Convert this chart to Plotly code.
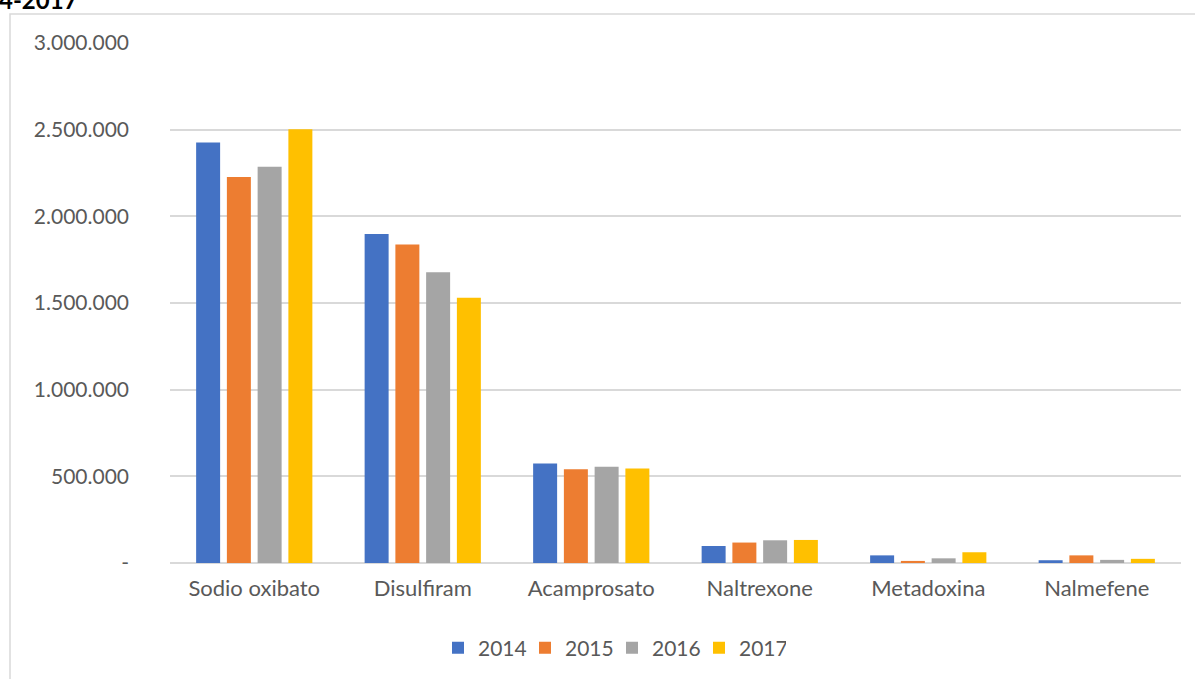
import plotly.graph_objects as go

categories = ["Sodio oxibato", "Disulfiram", "Acamprosato", "Naltrexone", "Metadoxina", "Nalmefene"]
years = ["2014", "2015", "2016", "2017"]
v2014 = [2426000, 1898000, 574000, 98000, 44000, 16000]
v2015 = [2227000, 1837000, 541000, 118000, 12000, 44000]
v2016 = [2286000, 1677000, 555000, 131000, 27000, 18000]
v2017 = [2503000, 1530000, 545000, 133000, 62000, 24000]
series = [v2014, v2015, v2016, v2017]
colors = ["#4472C4", "#ED7D31", "#A5A5A5", "#FFC000"]
tick_vals = [0, 500000, 1000000, 1500000, 2000000, 2500000, 3000000]
tick_text = ["-", "500.000", "1.000.000", "1.500.000", "2.000.000", "2.500.000", "3.000.000"]

FONT = "Lato, Open Sans, sans-serif"
fig = go.Figure()
for name, vals, col in zip(years, series, colors):
    fig.add_trace(go.Bar(x=categories, y=vals, name=name, marker=dict(color=col, line=dict(width=0))))

W, H = 1195, 679
L, R, T, B = 170, 14, 43, 115
pw, ph = W - L - R, H - T - B

def px(x):
    return (x - L) / pw

def py(y):
    return (H - B - y) / ph

fig.update_layout(
    width=W, height=H,
    margin=dict(l=L, r=R, t=T, b=B),
    paper_bgcolor="white", plot_bgcolor="white",
    barmode="group", bargap=0.27, bargroupgap=0.22,
    font=dict(family=FONT, size=21, color="#595959"),
    showlegend=True,
    legend=dict(orientation="h", x=px(612), xanchor="center", y=py(648), yanchor="middle",
                font=dict(size=21, color="#595959"), itemwidth=30, traceorder="normal",
                entrywidth=42, entrywidthmode="pixels"),
    xaxis=dict(showgrid=False, showline=False, ticks="", ticklabelstandoff=10,
               tickfont=dict(size=22, color="#595959")),
    yaxis=dict(range=[0, 3000000], tickvals=tick_vals, ticktext=tick_text,
               showgrid=True, gridcolor="#D9D9D9", gridwidth=1.5,
               zeroline=True, zerolinecolor="#D9D9D9", zerolinewidth=1.5,
               showline=False, ticks="", ticklabelstandoff=40,
               tickfont=dict(size=21, color="#595959")),
    shapes=[dict(type="rect", xref="paper", yref="paper",
                 x0=px(10), x1=px(1210), y0=py(700), y1=py(14),
                 line=dict(color="#D9D9D9", width=1.5), fillcolor="rgba(0,0,0,0)", layer="below")],
    annotations=[dict(text="<b>4-2017</b>", xref="paper", yref="paper", x=px(80), y=py(-1),
                      xanchor="right", yanchor="middle", showarrow=False,
                      font=dict(size=24, color="black", family="Lato, Liberation Sans, sans-serif"))],
)
fig.write_html("out.html", config={"displayModeBar": False},
               post_script="document.body.style.margin='0';document.body.style.overflow='hidden';")
